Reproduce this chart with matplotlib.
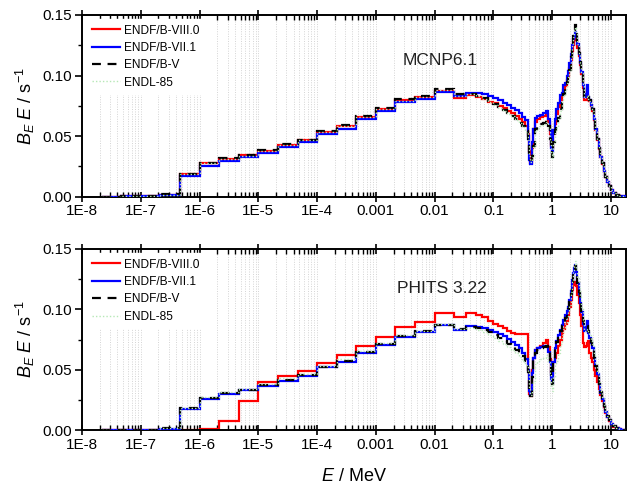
import matplotlib
matplotlib.use("Agg")
import matplotlib.pyplot as plt
from matplotlib.lines import Line2D
from matplotlib.ticker import LogLocator, MultipleLocator, NullFormatter

plt.rcParams['font.family'] = ['Liberation Sans', 'DejaVu Sans']
plt.rcParams['mathtext.fontset'] = 'custom'
plt.rcParams['mathtext.rm'] = 'Liberation Sans'
plt.rcParams['mathtext.it'] = 'Liberation Sans:italic'

# ---------------- data ----------------
# energy group boundaries (MeV)
energy_edges = [2.15e-8, 4.64e-8, 1e-7, 2.15e-7, 4.64e-7, 1e-6, 2.15e-6, 4.64e-6, 1e-5, 2.15e-5,
                4.64e-5, 1e-4, 2.15e-4, 4.64e-4, 1e-3, 2.15e-3, 4.64e-3, 1e-2, 2.15e-2, 3.4e-2,
                0.05, 0.065, 0.08, 0.1, 0.12, 0.145, 0.17, 0.2, 0.235, 0.27,
                0.31, 0.35, 0.38, 0.405, 0.425, 0.445, 0.47, 0.5, 0.56, 0.63,
                0.7, 0.77, 0.84, 0.9, 0.95, 1.0, 1.05, 1.1, 1.17, 1.25,
                1.35, 1.45, 1.55, 1.65, 1.75, 1.85, 1.95, 2.05, 2.15, 2.25,
                2.35, 2.45, 2.55, 2.65, 2.8, 2.95, 3.1, 3.3, 3.5, 3.7,
                3.9, 4.1, 4.3, 4.55, 4.8, 5.1, 5.4, 5.8, 6.2, 6.6,
                7.0, 7.5, 8.0, 8.6, 9.2, 10.0, 11.0, 12.0, 13.5, 15.0,
                17.0, 19.0]

# MCNP6.1 panel
mcnp_viii0 = [0.0, 0.0002, 0.0003, 0.0015, 0.0188, 0.0276, 0.0314, 0.0342, 0.0378, 0.0430,
              0.0469, 0.0532, 0.0587, 0.0660, 0.0727, 0.0799, 0.0827, 0.0876, 0.0815, 0.0838,
              0.0825, 0.0810, 0.0785, 0.0770, 0.0750, 0.0730, 0.0710, 0.0690, 0.0665, 0.0640,
              0.0615, 0.0585, 0.0520, 0.0380, 0.0275, 0.0400, 0.0560, 0.0620, 0.0640, 0.0655,
              0.0665, 0.0680, 0.0620, 0.0520, 0.0420, 0.0400, 0.0520, 0.0600, 0.0680, 0.0740,
              0.0800, 0.0830, 0.0880, 0.0910, 0.0960, 0.1000, 0.1060, 0.1130, 0.1200, 0.1250,
              0.1290, 0.1300, 0.1290, 0.1230, 0.1160, 0.1090, 0.1010, 0.0900, 0.0800, 0.0800,
              0.0840, 0.0800, 0.0790, 0.0750, 0.0710, 0.0630, 0.0550, 0.0470, 0.0395, 0.0325,
              0.0270, 0.0210, 0.0160, 0.0120, 0.0085, 0.0055, 0.0032, 0.0018, 0.0008, 0.0003,
              0.0001]
mcnp_vii1 = [0.0, 0.0002, 0.0003, 0.0012, 0.0171, 0.0256, 0.0298, 0.0325, 0.0364, 0.0413,
             0.0455, 0.0518, 0.0562, 0.0640, 0.0708, 0.0778, 0.0808, 0.0867, 0.0832, 0.0859,
             0.0855, 0.0845, 0.0830, 0.0812, 0.0795, 0.0775, 0.0757, 0.0735, 0.0715, 0.0690,
             0.0660, 0.0630, 0.0500, 0.0303, 0.0270, 0.0450, 0.0560, 0.0650, 0.0665, 0.0675,
             0.0690, 0.0705, 0.0640, 0.0550, 0.0400, 0.0370, 0.0550, 0.0640, 0.0720, 0.0770,
             0.0840, 0.0860, 0.0920, 0.0940, 0.1000, 0.1040, 0.1100, 0.1180, 0.1250, 0.1300,
             0.1330, 0.1360, 0.1320, 0.1260, 0.1180, 0.1100, 0.1030, 0.0920, 0.0820, 0.0850,
             0.0920, 0.0820, 0.0800, 0.0760, 0.0720, 0.0640, 0.0560, 0.0480, 0.0400, 0.0330,
             0.0275, 0.0215, 0.0165, 0.0120, 0.0085, 0.0055, 0.0032, 0.0018, 0.0008, 0.0003,
             0.0001]
mcnp_v = [0.0, 0.0002, 0.0003, 0.0020, 0.0190, 0.0280, 0.0318, 0.0346, 0.0385, 0.0435,
          0.0472, 0.0540, 0.0595, 0.0668, 0.0735, 0.0805, 0.0835, 0.0893, 0.0845, 0.0850,
          0.0835, 0.0815, 0.0790, 0.0765, 0.0740, 0.0715, 0.0690, 0.0670, 0.0640, 0.0610,
          0.0580, 0.0540, 0.0480, 0.0350, 0.0300, 0.0340, 0.0420, 0.0560, 0.0580, 0.0600,
          0.0610, 0.0630, 0.0580, 0.0480, 0.0380, 0.0330, 0.0450, 0.0550, 0.0580, 0.0650,
          0.0720, 0.0800, 0.0850, 0.0900, 0.0950, 0.1000, 0.1050, 0.1150, 0.1250, 0.1330,
          0.1380, 0.1420, 0.1350, 0.1270, 0.1190, 0.1110, 0.1030, 0.0920, 0.0830, 0.0830,
          0.0850, 0.0820, 0.0800, 0.0760, 0.0720, 0.0640, 0.0560, 0.0480, 0.0400, 0.0330,
          0.0275, 0.0215, 0.0165, 0.0122, 0.0088, 0.0056, 0.0033, 0.0018, 0.0008, 0.0003,
          0.0001]

# PHITS 3.22 panel
phits_viii0 = [0.0, 0.0, 0.0, 0.0, 0.0002, 0.0010, 0.0075, 0.0240, 0.0395, 0.0450,
               0.0490, 0.0557, 0.0621, 0.0697, 0.0769, 0.0857, 0.0898, 0.0973, 0.0934, 0.0967,
               0.0950, 0.0935, 0.0905, 0.0880, 0.0865, 0.0843, 0.0820, 0.0800, 0.0798, 0.0796,
               0.0796, 0.0796, 0.0500, 0.0300, 0.0280, 0.0500, 0.0600, 0.0660, 0.0680, 0.0700,
               0.0720, 0.0750, 0.0690, 0.0590, 0.0480, 0.0440, 0.0560, 0.0600, 0.0640, 0.0700,
               0.0750, 0.0800, 0.0840, 0.0880, 0.0900, 0.0950, 0.1020, 0.1080, 0.1160, 0.1200,
               0.1220, 0.1230, 0.1190, 0.1120, 0.1050, 0.0950, 0.0860, 0.0720, 0.0690, 0.0700,
               0.0720, 0.0740, 0.0640, 0.0600, 0.0560, 0.0500, 0.0450, 0.0400, 0.0340, 0.0290,
               0.0240, 0.0190, 0.0145, 0.0105, 0.0075, 0.0048, 0.0028, 0.0015, 0.0007, 0.0003,
               0.0001]
phits_vii1 = [0.0, 0.0002, 0.0003, 0.0010, 0.0171, 0.0254, 0.0298, 0.0330, 0.0367, 0.0408,
              0.0447, 0.0520, 0.0565, 0.0640, 0.0705, 0.0774, 0.0815, 0.0870, 0.0829, 0.0862,
              0.0857, 0.0845, 0.0830, 0.0810, 0.0795, 0.0775, 0.0755, 0.0730, 0.0705, 0.0680,
              0.0640, 0.0590, 0.0500, 0.0320, 0.0290, 0.0470, 0.0600, 0.0660, 0.0680, 0.0690,
              0.0695, 0.0700, 0.0650, 0.0560, 0.0420, 0.0390, 0.0560, 0.0680, 0.0740, 0.0790,
              0.0830, 0.0870, 0.0910, 0.0950, 0.0990, 0.1020, 0.1080, 0.1150, 0.1240, 0.1300,
              0.1340, 0.1370, 0.1310, 0.1220, 0.1130, 0.1050, 0.0980, 0.0880, 0.0820, 0.0850,
              0.0900, 0.0800, 0.0760, 0.0720, 0.0680, 0.0600, 0.0530, 0.0460, 0.0380, 0.0310,
              0.0260, 0.0200, 0.0150, 0.0110, 0.0080, 0.0050, 0.0030, 0.0016, 0.0007, 0.0003,
              0.0001]
phits_v = [0.0, 0.0002, 0.0003, 0.0020, 0.0180, 0.0262, 0.0303, 0.0335, 0.0372, 0.0415,
           0.0455, 0.0525, 0.0570, 0.0645, 0.0710, 0.0778, 0.0820, 0.0868, 0.0835, 0.0855,
           0.0845, 0.0830, 0.0810, 0.0785, 0.0760, 0.0740, 0.0715, 0.0690, 0.0665, 0.0640,
           0.0610, 0.0570, 0.0480, 0.0330, 0.0280, 0.0440, 0.0580, 0.0640, 0.0660, 0.0680,
           0.0690, 0.0700, 0.0650, 0.0550, 0.0420, 0.0380, 0.0560, 0.0700, 0.0730, 0.0780,
           0.0820, 0.0860, 0.0890, 0.0930, 0.0970, 0.1000, 0.1060, 0.1130, 0.1220, 0.1290,
           0.1330, 0.1360, 0.1300, 0.1220, 0.1140, 0.1060, 0.0990, 0.0900, 0.0850, 0.0860,
           0.0860, 0.0820, 0.0780, 0.0730, 0.0680, 0.0600, 0.0530, 0.0460, 0.0385, 0.0315,
           0.0262, 0.0202, 0.0152, 0.0112, 0.0081, 0.0051, 0.0030, 0.0016, 0.0007, 0.0003,
           0.0001]

# ENDL-85 (faint, mostly hidden under the other curves)
endl85 = [0.0, 0.0002, 0.0003, 0.0018, 0.0185, 0.0275, 0.0312, 0.0340, 0.0378, 0.0428,
          0.0465, 0.0530, 0.0585, 0.0655, 0.0720, 0.0790, 0.0822, 0.0880, 0.0835, 0.0845,
          0.0830, 0.0810, 0.0785, 0.0760, 0.0735, 0.0710, 0.0685, 0.0665, 0.0635, 0.0605,
          0.0575, 0.0535, 0.0470, 0.0340, 0.0290, 0.0330, 0.0410, 0.0550, 0.0570, 0.0590,
          0.0600, 0.0620, 0.0570, 0.0470, 0.0360, 0.0320, 0.0440, 0.0540, 0.0570, 0.0640,
          0.0710, 0.0790, 0.0840, 0.0890, 0.0940, 0.0990, 0.1040, 0.1140, 0.1240, 0.1320,
          0.1370, 0.1400, 0.1340, 0.1260, 0.1180, 0.1100, 0.1020, 0.0910, 0.0820, 0.0820,
          0.0840, 0.0810, 0.0790, 0.0750, 0.0710, 0.0630, 0.0550, 0.0470, 0.0395, 0.0325,
          0.0270, 0.0210, 0.0160, 0.0120, 0.0086, 0.0055, 0.0032, 0.0018, 0.0008, 0.0003,
          0.0001]

series_names = ['ENDF/B-VIII.0', 'ENDF/B-VII.1', 'ENDF/B-V', 'ENDL-85']
panel_titles = ['MCNP6.1', 'PHITS 3.22']
x_tick_values = [1e-8, 1e-7, 1e-6, 1e-5, 1e-4, 1e-3, 1e-2, 1e-1, 1, 10]
x_tick_labels = ['1E-8', '1E-7', '1E-6', '1E-5', '1E-4', '0.001', '0.01', '0.1', '1', '10']
y_tick_values = [0.0, 0.05, 0.10, 0.15]
y_tick_labels = ['0.00', '0.05', '0.10', '0.15']

# ---------------- figure ----------------
W, H = 627, 492
fig = plt.figure(figsize=(W / 100, H / 100), dpi=100)

def frac_box(x0, y0, x1, y1):
    return [x0 / W, 1 - y1 / H, (x1 - x0) / W, (y1 - y0) / H]

ax_top = fig.add_axes(frac_box(82, 15, 626, 196.7))
ax_bot = fig.add_axes(frac_box(82, 249, 626, 430))

styles = [dict(color='#ff0000', lw=1.6, ls='-'),
          dict(color='#0000ff', lw=1.6, ls='-'),
          dict(color='black', lw=1.6, ls=(0, (4, 3))),
          dict(color='#b6e8b6', lw=1.0, ls=(0, (1, 1.5)))]

panels = [(ax_top, [mcnp_viii0, mcnp_vii1, mcnp_v, endl85], panel_titles[0], (0.658, 0.747)),
          (ax_bot, [phits_viii0, phits_vii1, phits_v, endl85], panel_titles[1], (0.662, 0.782))]

draw_order = [3, 0, 1, 2]
for ax, data, title, tpos in panels:
    ax.set_xscale('log')
    ax.set_xlim(1e-8, 18)
    ax.set_ylim(0, 0.15)
    # vertical dotted grid at every decade sub-division
    ax.xaxis.set_minor_locator(LogLocator(base=10, subs=range(2, 10), numticks=100))
    ax.grid(True, which='both', axis='x', color='#d4d4d4', ls=(0, (1, 1.5)), lw=0.7)
    ax.set_axisbelow(True)
    for i in draw_order:
        st = styles[i]
        ax.stairs(data[i], energy_edges, baseline=None, color=st['color'], lw=st['lw'],
                  ls=st['ls'], zorder=2 + i)
    ax.set_xticks(x_tick_values)
    ax.set_xticklabels(x_tick_labels)
    ax.xaxis.set_minor_formatter(NullFormatter())
    ax.set_yticks(y_tick_values)
    ax.set_yticklabels(y_tick_labels)
    ax.yaxis.set_minor_locator(MultipleLocator(0.025))
    ax.tick_params(axis='x', which='major', direction='inout', length=7, width=1.2,
                   labelsize=11, top=True, pad=2)
    ax.tick_params(axis='x', which='minor', direction='in', length=3.5, width=1.0, top=True)
    ax.tick_params(axis='y', which='major', direction='out', length=5, width=1.2,
                   labelsize=11, right=False, pad=2)
    ax.tick_params(axis='y', which='minor', direction='out', length=3, width=1.0, right=False)
    for sp in ax.spines.values():
        sp.set_linewidth(1.4)
    ax.set_ylabel(r'$B_E$ $E$ / s$^{-1}$', fontsize=13, labelpad=4)
    ax.text(tpos[0], tpos[1], title, transform=ax.transAxes, fontsize=12.5,
            ha='center', va='center', color='#222222')
    handles = [Line2D([], [], color=styles[i]['color'], lw=styles[i]['lw'], ls=styles[i]['ls'])
               for i in range(4)]
    leg = ax.legend(handles, series_names, loc='upper left', bbox_to_anchor=(0.0, 1.0),
                    fontsize=8.6, frameon=True, framealpha=1.0, edgecolor='white',
                    handlelength=2.4, handletextpad=0.35, labelspacing=0.45,
                    borderpad=0.45, borderaxespad=0.35, fancybox=False)
    leg.set_zorder(10)

ax_bot.set_xlabel(r'$E$ / MeV', fontsize=13, labelpad=12)

fig.savefig('out.png', dpi=100)
